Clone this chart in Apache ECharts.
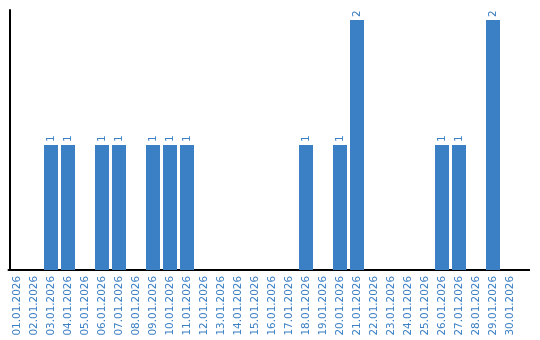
<!DOCTYPE html>
<html><head><meta charset="utf-8">
<script src="https://cdn.jsdelivr.net/npm/echarts@6/dist/echarts.min.js"></script>
<style>html,body{margin:0;padding:0;background:#fff}#c{width:540px;height:340px}</style>
</head><body><div id="c"></div>
<script>
const categories = ["01.01.2026","02.01.2026","03.01.2026","04.01.2026","05.01.2026","06.01.2026","07.01.2026","08.01.2026","09.01.2026","10.01.2026","11.01.2026","12.01.2026","13.01.2026","14.01.2026","15.01.2026","16.01.2026","17.01.2026","18.01.2026","19.01.2026","20.01.2026","21.01.2026","22.01.2026","23.01.2026","24.01.2026","25.01.2026","26.01.2026","27.01.2026","28.01.2026","29.01.2026","30.01.2026"];
const values = [0,0,1,1,0,1,1,0,1,1,1,0,0,0,0,0,0,1,0,1,2,0,0,0,0,1,1,0,2,0];
const blue = '#3b7fc4';
const chart = echarts.init(document.getElementById('c'));
chart.setOption({
  animation:false,
  grid:{left:8.5,top:10,width:510,height:260,containLabel:false},
  xAxis:{type:'category',data:categories,
    axisLine:{lineStyle:{color:'#000',width:2}},axisTick:{show:false},
    axisLabel:{rotate:90,color:blue,fontFamily:'DejaVu Sans',fontSize:10.4,interval:0,margin:6}},
  yAxis:{type:'value',min:0,max:2.08,splitLine:{show:false},axisLabel:{show:false},axisTick:{show:false},
    offset:-1.5,
    axisLine:{show:true,lineStyle:{color:'#000',width:2}}},
  series:[{type:'bar',data:values.map(v=>v===0?null:v),barWidth:14,itemStyle:{color:blue},
    label:{show:true,position:'top',rotate:90,color:blue,fontFamily:'DejaVu Sans',fontSize:10.4,distance:3,align:'left',verticalAlign:'middle'}}],
  graphic:[{type:'line',shape:{x1:518,y1:270,x2:530,y2:270},style:{stroke:'#000',lineWidth:2}}]
});
</script></body></html>
